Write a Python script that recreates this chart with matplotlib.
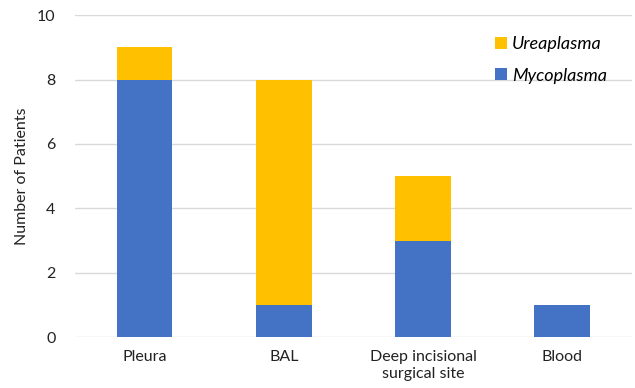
import matplotlib.pyplot as plt
import numpy as np

categories = ['Pleura', 'BAL', 'Deep incisional\nsurgical site', 'Blood']
mycoplasma = [8, 1, 3, 1]
ureaplasma = [1, 7, 2, 0]

plt.rcParams['font.family'] = ['Lato', 'DejaVu Sans']

fig = plt.figure(figsize=(6.35, 3.88), dpi=100)
ax = fig.add_axes([0.118, 0.131, 0.877, 0.83])

x = np.arange(len(categories))
ax.bar(x, mycoplasma, width=0.4, color='#4472C4', label='Mycoplasma', zorder=3)
ax.bar(x, ureaplasma, width=0.4, bottom=mycoplasma, color='#FFC000',
       label='Ureaplasma', zorder=3)

ax.set_xlim(-0.5, 3.5)
ax.set_ylim(0, 10)
ax.set_yticks(range(0, 11, 2))
ax.set_xticks(x)
ax.set_xticklabels(categories, fontsize=11.5, color='#222222', linespacing=1.3)
ax.tick_params(axis='y', labelsize=11.5, labelcolor='#222222', length=0, pad=14)
ax.tick_params(axis='x', length=0, pad=9)
ax.grid(axis='y', color='#D9D9D9', linewidth=1, zorder=0)
for s in ax.spines.values():
    s.set_visible(False)
ax.set_ylabel('Number of Patients', fontsize=11.5, color='#222222', labelpad=6)

handles, labels = ax.get_legend_handles_labels()
ax.legend(handles[::-1], labels[::-1], loc='upper right', bbox_to_anchor=(0.985, 0.985),
          frameon=False, prop={'style': 'italic', 'size': 13},
          handlelength=0.65, handleheight=0.65, handletextpad=0.3, labelspacing=0.85)

fig.savefig('out.png', dpi=100)
